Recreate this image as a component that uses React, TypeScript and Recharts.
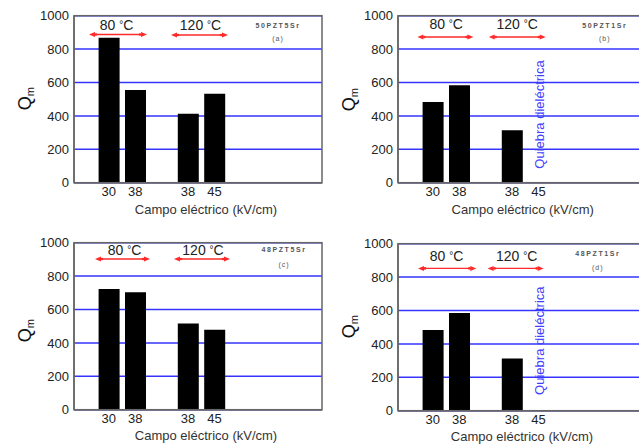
import React from "react";
import { BarChart, Bar, XAxis, YAxis, CartesianGrid } from "recharts";

const categories = ["30", "38", "38", "45"];
const valuesA = [868, 555, 413, 533];
const valuesB = [483, 583, 314, null];
const valuesC = [723, 704, 516, 478];
const valuesD = [483, 585, 313, null];
const yTicks = [0, 200, 400, 600, 800, 1000];
const sampleNames = ["50PZT5Sr", "50PZT1Sr", "48PZT5Sr", "48PZT1Sr"];
const panelLetters = ["(a)", "(b)", "(c)", "(d)"];
const tempValues = ["80", "120"];
const tempUnit = "\u00b0C";
const xAxisTitle = "Campo eléctrico (kV/cm)";
const breakdownLabel = "Quiebra dieléctrica";

const FONT = "'Liberation Sans', Arial, sans-serif";
const slots = [0, 1, -1, 2, 3, -1, -1, -1];

const buildRows = (values: (number | null)[]) =>
  slots.map((s, i) => ({
    key: i,
    label: s >= 0 ? categories[s] : "",
    value: s >= 0 ? values[s] : null,
  }));

const CW = 330;
const CH = 222;
const PL = 74;
const PT = 15.7;
const PW = 248;
const PH = 167;

type Ann = {
  left: number;
  top: number;
  temps: { x: number; y: number }[];
  arrows: { x1: number; x2: number; y: number }[];
  sample: { x: number; y: number; y2: number };
  qy: number;
  xlab: { x: number; y: number };
  breakdown?: { x: number; y: number };
};

const panels: { values: (number | null)[]; ann: Ann }[] = [
  {
    values: valuesA,
    ann: {
      left: 0,
      top: 0,
      temps: [{ x: 42.5, y: 9.3 }, { x: 126.5, y: 9.3 }],
      arrows: [{ x1: 15, x2: 73, y: 18.8 }, { x1: 97, x2: 154, y: 19.3 }],
      sample: { x: 204, y: 10.3, y2: 23.3 },
      qy: 83,
      xlab: { x: 132, y: 194.3 },
    },
  },
  {
    values: valuesB,
    ann: {
      left: 324.3,
      top: 0,
      temps: [{ x: 48.2, y: 8.3 }, { x: 119.2, y: 8.3 }],
      arrows: [{ x1: 19.4, x2: 75.4, y: 21.3 }, { x1: 90.7, x2: 147.7, y: 21.3 }],
      sample: { x: 206.7, y: 10.3, y2: 23.3 },
      qy: 84,
      xlab: { x: 124.7, y: 194.3 },
      breakdown: { x: 141.7, y: 98.8 },
    },
  },
  {
    values: valuesC,
    ann: {
      left: 0,
      top: 227,
      temps: [{ x: 50.5, y: 7 }, { x: 129, y: 7 }],
      arrows: [{ x1: 21, x2: 76, y: 16.3 }, { x1: 100, x2: 156, y: 16.3 }],
      sample: { x: 210, y: 7.3, y2: 22.3 },
      qy: 88,
      xlab: { x: 132, y: 192.6 },
    },
  },
  {
    values: valuesD,
    ann: {
      left: 323.7,
      top: 228.3,
      temps: [{ x: 48.6, y: 12.3 }, { x: 118.6, y: 12.3 }],
      arrows: [{ x1: 20, x2: 78.3, y: 24.7 }, { x1: 89.6, x2: 145.6, y: 24.7 }],
      sample: { x: 199.8, y: 10, y2: 23.7 },
      qy: 83,
      xlab: { x: 124, y: 193 },
      breakdown: { x: 141.3, y: 97 },
    },
  },
];

const Arrow = ({ x1, x2, y }: { x1: number; x2: number; y: number }) => {
  const c = "#ff2a2a";
  return (
    <g>
      <line x1={x1 + 3} x2={x2 - 3} y1={y} y2={y} stroke={c} strokeWidth={1.3} />
      <polygon points={`${x1},${y} ${x1 + 6},${y - 2.5} ${x1 + 6},${y + 2.5}`} fill={c} />
      <polygon points={`${x2},${y} ${x2 - 6},${y - 2.5} ${x2 - 6},${y + 2.5}`} fill={c} />
      <circle cx={x1 + 7} cy={y} r={1.3} fill={c} />
      <circle cx={x2 - 7} cy={y} r={1.3} fill={c} />
    </g>
  );
};

const Panel = ({ values, ann, idx }: { values: (number | null)[]; ann: Ann; idx: number }) => {
  const rows = buildRows(values);
  return (
    <div style={{ position: "absolute", left: ann.left, top: ann.top, width: CW, height: CH }}>
      <BarChart
        width={CW}
        height={CH}
        data={rows}
        margin={{ top: PT, left: 24, right: CW - PL - PW, bottom: CH - PT - PH - 30 }}
      >
        <CartesianGrid vertical={false} stroke="#3535ff" strokeWidth={1.5} />
        <XAxis
          dataKey="key"
          type="category"
          height={30}
          interval={0}
          padding={{ left: 21.6, right: 15.2 }}
          tickFormatter={(v: number) => rows[v]?.label ?? ""}
          tickLine={false}
          tickSize={2}
          tickMargin={2}
          axisLine={{ stroke: "#666", strokeWidth: 1.5 }}
          tick={{ fill: "#222", fontSize: 13, fontFamily: FONT }}
        />
        <YAxis
          width={50}
          domain={[0, 1000]}
          ticks={yTicks}
          interval={0}
          tickLine={false}
          tickSize={3}
          tickMargin={2}
          axisLine={{ stroke: "#666", strokeWidth: 1.5 }}
          tick={{ fill: "#222", fontSize: 13, fontFamily: FONT }}
        />
        <Bar dataKey="value" fill="#000" barSize={21} isAnimationActive={false} />
      </BarChart>
      <svg
        width={CW}
        height={CH}
        style={{ position: "absolute", left: 0, top: 0, pointerEvents: "none", overflow: "visible" }}
      >
        <g transform={`translate(${PL},${PT})`} fontFamily={FONT}>
          <rect x={0} y={0} width={PW} height={PH} fill="none" stroke="#666" strokeWidth={1.5} />
          {ann.temps.map((t, i) => (
            <text key={i} x={t.x} y={t.y + 5} textAnchor="middle" fontSize={14} fill="#222">
              {tempValues[i] + " "}
              <tspan fontSize={10} dy={-2}>
                {tempUnit.charAt(0)}
              </tspan>
              <tspan dy={2}>{tempUnit.slice(1)}</tspan>
            </text>
          ))}
          {ann.arrows.map((a, i) => (
            <Arrow key={i} {...a} />
          ))}
          <text
            x={ann.sample.x}
            y={ann.sample.y}
            textAnchor="middle"
            dominantBaseline="central"
            fontSize={7}
            letterSpacing={1.6}
            fill="#555"
            fontWeight="bold"
          >
            {sampleNames[idx]}
          </text>
          <text
            x={ann.sample.x}
            y={ann.sample.y2}
            textAnchor="middle"
            dominantBaseline="central"
            fontSize={7}
            letterSpacing={1}
            fill="#555"
          >
            {panelLetters[idx]}
          </text>
          {ann.breakdown && (
            <text
              transform={`translate(${ann.breakdown.x},${ann.breakdown.y}) rotate(-90)`}
              textAnchor="middle"
              dominantBaseline="central"
              fontSize={13}
              fill="#4040ff"
            >
              {breakdownLabel}
            </text>
          )}
          <text
            transform={`translate(${-49},${ann.qy}) rotate(-90)`}
            textAnchor="middle"
            dominantBaseline="central"
            fontSize={18}
            fill="#111"
          >
            Q
            <tspan fontSize={11} dy={5}>
              m
            </tspan>
          </text>
          <text
            x={ann.xlab.x}
            y={ann.xlab.y}
            textAnchor="middle"
            dominantBaseline="central"
            fontSize={13}
            fill="#333"
          >
            {xAxisTitle}
          </text>
        </g>
      </svg>
    </div>
  );
}

export default function App() {
  return (
    <div
      style={{
        position: "fixed",
        left: 0,
        top: 0,
        width: 639,
        height: 444,
        overflow: "hidden",
        background: "#fff",
      }}
    >
      {panels.map((p, i) => (
        <Panel key={i} values={p.values} ann={p.ann} idx={i} />
      ))}
    </div>
  );
}
